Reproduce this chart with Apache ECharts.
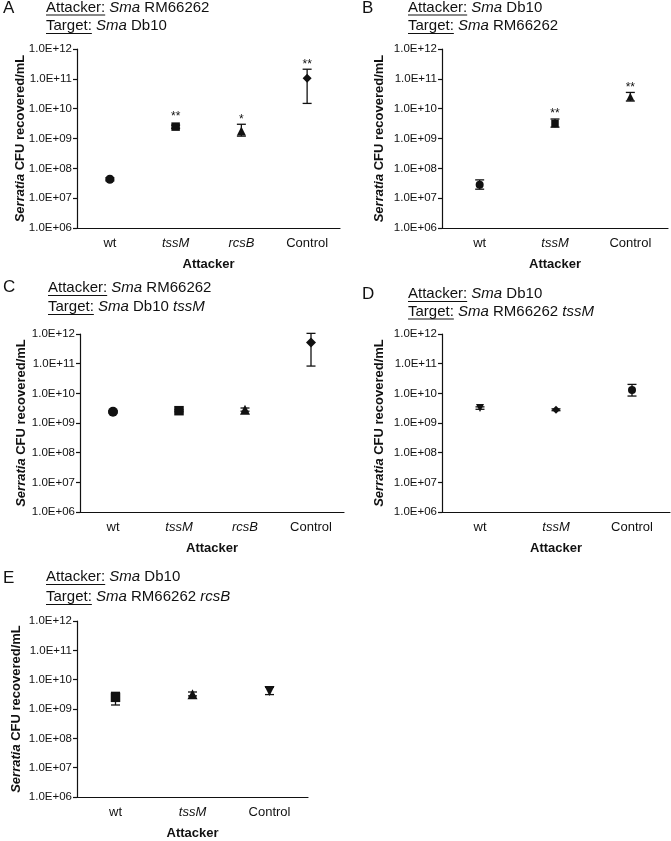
<!DOCTYPE html>
<html><head><meta charset="utf-8">
<script src="https://cdn.jsdelivr.net/npm/echarts@6/dist/echarts.min.js"></script>
<style>html,body{margin:0;padding:0;background:#fff}#c{width:671px;height:841px}</style>
</head><body><div id="c"></div>
<script>
// ---- Data ----
const catsA = ['wt', 'tssM', 'rcsB', 'Control'];
const meanA = [4.3e7, 2.5e9, 1.8e9, 1.05e11];
const lowA  = [3.8e7, 2.2e9, 1.2e9, 1.5e10];
const highA = [4.8e7, 2.8e9, 3.0e9, 2.1e11];
const sigA  = ['', '**', '*', '**'];

const catsB = ['wt', 'tssM', 'Control'];
const meanB = [2.8e7, 3.2e9, 2.5e10];
const lowB  = [2.0e7, 2.4e9, 1.8e10];
const highB = [4.1e7, 4.5e9, 3.5e10];
const sigB  = ['', '**', '**'];

const catsC = ['wt', 'tssM', 'rcsB', 'Control'];
const meanC = [2.4e9, 2.6e9, 2.8e9, 5.2e11];
const lowC  = [2.2e9, 2.4e9, 2.5e9, 8.3e10];
const highC = [2.6e9, 2.8e9, 3.2e9, 1.05e12];
const sigC  = ['', '', '', ''];

const catsD = ['wt', 'tssM', 'Control'];
const meanD = [3.2e9, 2.8e9, 1.3e10];
const lowD  = [2.9e9, 2.6e9, 8.1e9];
const highD = [3.5e9, 3.0e9, 2.0e10];
const sigD  = ['', '', ''];

const catsE = ['wt', 'tssM', 'Control'];
const meanE = [2.5e9, 3.2e9, 4.1e9];
const lowE  = [1.37e9, 2.8e9, 3.1e9];
const highE = [3.7e9, 3.8e9, 5.5e9];
const sigE  = ['', '', ''];

const yTicksMin = 1e6, yTicksMax = 1e12;
const italicCats = ['tssM', 'rcsB'];

// ---- Styles (separate from data) ----
const symA = ['circle', 'rect', 'triangle', 'diamond'];
const symB = ['circle', 'rect', 'triangle'];
const symC = ['circle', 'rect', 'triangle', 'diamond'];
const symD = ['invtri', 'diamond', 'circle'];
const symE = ['rect', 'triangle', 'invtri'];

const FONT = '"Liberation Sans", Arial, Helvetica, sans-serif';
const INK = '#111';
const TF = 15;

const panels = [
  {cats: catsA, mean: meanA, low: lowA, high: highA, sig: sigA, sym: symA, size: 9,
   grid: {left: 77, top: 49, width: 263, height: 179}, nameGap: 50,
   letter: 'A', lx: 3, ly: 9, tx: 46, y1: 7.5, y2: 26, attacker: 'RM66262', target: ['Db10', '']},
  {cats: catsB, mean: meanB, low: lowB, high: highB, sig: sigB, sym: symB, size: 8,
   grid: {left: 442, top: 49, width: 226, height: 179}, nameGap: 56,
   letter: 'B', lx: 362, ly: 9, tx: 408, y1: 7.5, y2: 26, attacker: 'Db10', target: ['RM66262', '']},
  {cats: catsC, mean: meanC, low: lowC, high: highC, sig: sigC, sym: symC, size: 10,
   grid: {left: 80, top: 334, width: 264, height: 178}, nameGap: 52,
   letter: 'C', lx: 3, ly: 288, tx: 48, y1: 288, y2: 307, attacker: 'RM66262', target: ['Db10', 'tssM']},
  {cats: catsD, mean: meanD, low: lowD, high: highD, sig: sigD, sym: symD, size: 8,
   grid: {left: 442, top: 334, width: 228, height: 178}, nameGap: 56,
   letter: 'D', lx: 362, ly: 295, tx: 408, y1: 294, y2: 311.5, attacker: 'Db10', target: ['RM66262', 'tssM']},
  {cats: catsE, mean: meanE, low: lowE, high: highE, sig: sigE, sym: symE, size: 10,
   grid: {left: 77, top: 621, width: 231, height: 178}, nameGap: 54,
   letter: 'E', lx: 3, ly: 579, tx: 46, y1: 577, y2: 597, attacker: 'Db10', target: ['RM66262', 'rcsB']}
];

const ctx = document.createElement('canvas').getContext('2d');
function textW(s, size) { ctx.font = size + 'px ' + FONT; return ctx.measureText(s).width; }

const grids = [], xAxes = [], yAxes = [], series = [], graphics = [];

panels.forEach((p, k) => {
  grids.push(Object.assign({containLabel: false}, p.grid));
  xAxes.push({
    type: 'category', gridIndex: k, data: p.cats, boundaryGap: true,
    name: 'Attacker', nameLocation: 'middle', nameGap: 30, nameMoveOverlap: false,
    nameTextStyle: {fontFamily: FONT, fontWeight: 'bold', fontSize: 13, color: INK},
    axisLine: {lineStyle: {color: INK, width: 1.2}},
    axisTick: {alignWithLabel: true, length: 4, lineStyle: {color: INK, width: 1.2}},
    axisLabel: {
      margin: 9, fontFamily: FONT, fontSize: 13, color: INK,
      formatter: v => italicCats.includes(v) ? '{i|' + v + '}' : v,
      rich: {i: {fontStyle: 'italic', fontFamily: FONT, fontSize: 13, color: INK}}
    },
    splitLine: {show: false}
  });
  yAxes.push({
    type: 'log', logBase: 10, gridIndex: k, min: yTicksMin, max: yTicksMax, splitNumber: 6,
    name: '{i|Serratia} {b|CFU recovered/mL}', nameLocation: 'middle', nameGap: p.nameGap, nameRotate: 90,
    nameMoveOverlap: false,
    nameTextStyle: {
      fontFamily: FONT, fontWeight: 'bold', fontSize: 13, color: INK,
      rich: {
        i: {fontStyle: 'italic', fontWeight: 'bold', fontFamily: FONT, fontSize: 13, color: INK},
        b: {fontWeight: 'bold', fontFamily: FONT, fontSize: 13, color: INK}
      }
    },
    axisLine: {show: true, lineStyle: {color: INK, width: 1.2}},
    axisTick: {show: true, length: 4, lineStyle: {color: INK, width: 1.2}},
    axisLabel: {
      margin: 5, fontFamily: FONT, fontSize: 11.5, color: INK,
      formatter: v => '1.0E+' + String(Math.round(Math.log10(v))).padStart(2, '0')
    },
    splitLine: {show: false}
  });

  // markers
  series.push({
    type: 'scatter', xAxisIndex: k, yAxisIndex: k, z: 3,
    data: p.mean.map((m, i) => {
      const s = p.sym[i];
      return {
        value: [i, m],
        symbol: s === 'invtri' ? 'triangle' : s,
        symbolRotate: s === 'invtri' ? 180 : 0,
        symbolSize: s === 'rect' ? p.size - 0.5 : p.size
      };
    }),
    itemStyle: {color: INK, opacity: 1},
    emphasis: {disabled: true}
  });

  // error bars + significance
  const sig = p.sig, size = p.size;
  series.push({
    type: 'custom', xAxisIndex: k, yAxisIndex: k, z: 2,
    data: p.mean.map((m, i) => [i, p.low[i], p.high[i], m]),
    renderItem: (params, api) => {
      const i = api.value(0);
      const lo = api.coord([i, api.value(1)]);
      const hi = api.coord([i, api.value(2)]);
      const mid = api.coord([i, api.value(3)]);
      const cw = 4.5;
      const st = {stroke: INK, lineWidth: 1.3};
      const children = [
        {type: 'line', shape: {x1: lo[0], y1: lo[1], x2: hi[0], y2: hi[1]}, style: st},
        {type: 'line', shape: {x1: lo[0] - cw, y1: lo[1], x2: lo[0] + cw, y2: lo[1]}, style: st},
        {type: 'line', shape: {x1: hi[0] - cw, y1: hi[1], x2: hi[0] + cw, y2: hi[1]}, style: st}
      ];
      const s = sig[params.dataIndex];
      if (s) {
        const top = Math.min(hi[1], mid[1] - size / 2);
        children.push({type: 'text', style: {
          text: s, x: mid[0], y: top + 1, align: 'center', verticalAlign: 'bottom',
          font: '12px ' + FONT, fill: INK
        }});
      }
      return {type: 'group', children};
    }
  });

  // titles
  graphics.push({type: 'text', left: p.lx, top: p.ly - 9,
    style: {text: p.letter, font: '17px ' + FONT, fill: INK}});
  const l1 = 'Attacker:', l2 = 'Target:';
  const rich = {n: {font: TF + 'px ' + FONT, fill: INK}, i: {font: 'italic ' + TF + 'px ' + FONT, fill: INK}};
  graphics.push({type: 'text', x: p.tx, y: p.y1,
    style: {
      text: '{n|' + l1 + '} {i|Sma} {n|' + p.attacker + '}',
      verticalAlign: 'middle', align: 'left', rich, font: TF + 'px ' + FONT, fill: INK
    }});
  const t2 = '{n|' + l2 + '} {i|Sma} {n|' + p.target[0] + '}' + (p.target[1] ? ' {i|' + p.target[1] + '}' : '');
  graphics.push({type: 'text', x: p.tx, y: p.y2,
    style: {text: t2, verticalAlign: 'middle', align: 'left', rich, font: TF + 'px ' + FONT, fill: INK}});
  graphics.push({type: 'line', shape: {x1: p.tx, y1: p.y1 + 7.5, x2: p.tx + textW(l1, TF), y2: p.y1 + 7.5},
    style: {stroke: INK, lineWidth: 1}});
  graphics.push({type: 'line', shape: {x1: p.tx, y1: p.y2 + 7.5, x2: p.tx + textW(l2, TF), y2: p.y2 + 7.5},
    style: {stroke: INK, lineWidth: 1}});
});

const chart = echarts.init(document.getElementById('c'), null, {renderer: 'canvas'});
chart.setOption({
  animation: false,
  backgroundColor: '#fff',
  grid: grids, xAxis: xAxes, yAxis: yAxes, series: series, graphic: graphics
});
</script>
</body></html>
